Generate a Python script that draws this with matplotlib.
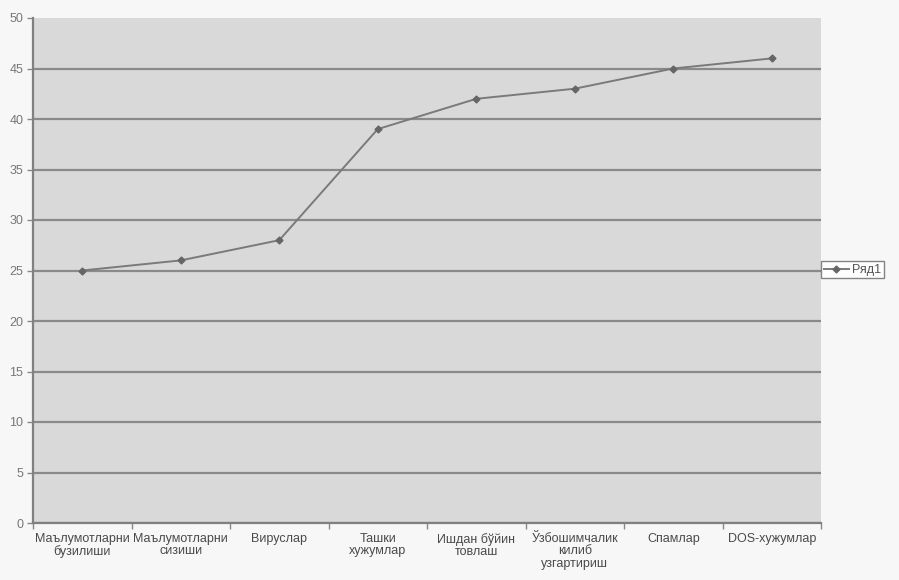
import numpy as np
import matplotlib as mpl
import matplotlib.pyplot as plt

categories = [
    'Маълумотларни\nбузилиши',
    'Маълумотларни\nсизиши',
    'Вируслар',
    'Ташки\nхужумлар',
    'Ишдан бўйин\nтовлаш',
    'Ўзбошимчалик\nкилиб\nузгартириш',
    'Спамлар',
    'DOS-хужумлар',
]
values = [25, 26, 28, 39, 42, 43, 45, 46]
series_name = 'Ряд1'
y_ticks = [0, 5, 10, 15, 20, 25, 30, 35, 40, 45, 50]

mpl.rcParams['font.family'] = ['Liberation Sans', 'DejaVu Sans']

fig = plt.figure(figsize=(8.99, 5.8), dpi=100, facecolor='#f7f7f7')
ax = fig.add_axes([33 / 899, 1 - 523 / 580, 788 / 899, 505 / 580])
ax.set_facecolor('#d9d9d9')

x = np.arange(len(categories))
line, = ax.plot(x, values, color='#7a7a7a', linewidth=1.4, marker='D',
                markersize=3.5, markerfacecolor='#666666', markeredgecolor='#666666',
                label=series_name, zorder=3)

ax.set_xlim(-0.5, len(categories) - 0.5)
ax.set_ylim(0, 50)
ax.set_yticks(y_ticks)
ax.yaxis.grid(True, color='#8a8a8a', linewidth=1.6)
ax.get_ygridlines()[-1].set_visible(False)
ax.set_axisbelow(True)

ax.set_xticks(x)
ax.set_xticklabels(categories, fontsize=9, color='#4a4a4a', linespacing=1.05)
ax.set_xticks(np.arange(len(categories) + 1) - 0.5, minor=True)
ax.tick_params(axis='x', which='major', length=0, pad=7)
ax.tick_params(axis='x', which='minor', length=4, color='#888888', width=1)
ax.tick_params(axis='y', length=4, color='#888888', width=1, labelsize=9,
               labelcolor='#777777', pad=3)

for side in ['top', 'right']:
    ax.spines[side].set_visible(False)
for side in ['left', 'bottom']:
    ax.spines[side].set_color('#808080')
    ax.spines[side].set_linewidth(1.6)

leg = fig.legend(handles=[line], loc='center left', bbox_to_anchor=(821 / 899, 1 - 270 / 580),
                 fontsize=9, frameon=True, fancybox=False, handlelength=2.0,
                 borderpad=0.2, handletextpad=0.3, borderaxespad=0)
leg.get_frame().set_edgecolor('#666666')
leg.get_frame().set_facecolor('white')
leg.get_frame().set_linewidth(1.0)
for t in leg.get_texts():
    t.set_color('#555555')

plt.savefig('out.png', dpi=100, facecolor=fig.get_facecolor())
